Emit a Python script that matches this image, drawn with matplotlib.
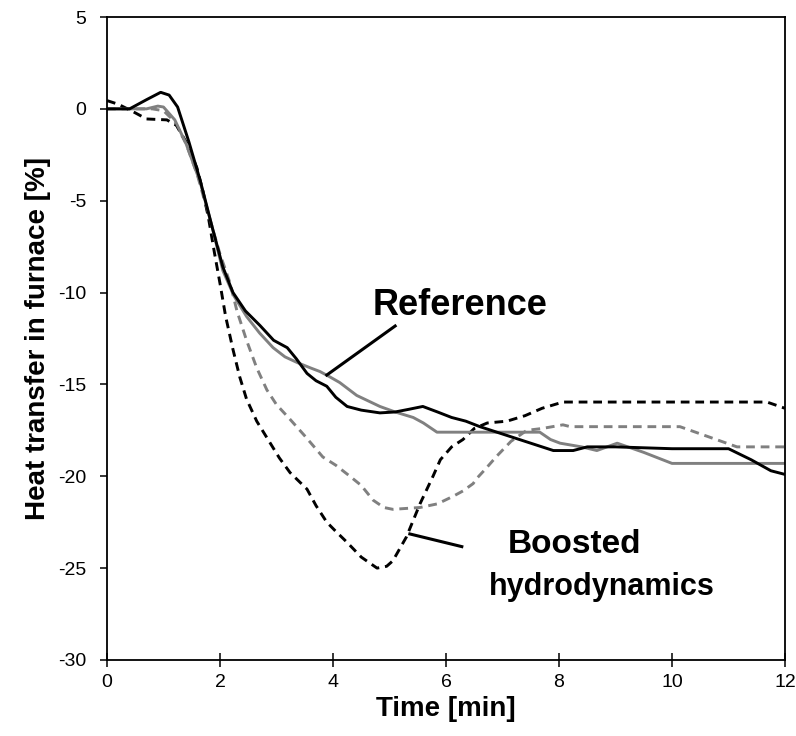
import matplotlib
matplotlib.use("Agg")
import matplotlib.pyplot as plt

plt.rcParams['font.family'] = ['Liberation Sans', 'DejaVu Sans']
plt.rcParams['axes.unicode_minus'] = False

# === DATA ===
# reference case, black solid
ref_black_t = [0, 0.4, 0.7, 0.95, 1.1, 1.25, 1.45, 1.65, 1.85, 2.05, 2.23, 2.45, 2.71,
               2.95, 3.19, 3.35, 3.54, 3.7, 3.89, 4.05, 4.25, 4.5, 4.83, 5.1, 5.35, 5.59,
               5.85, 6.1, 6.35, 6.6, 6.9, 7.3, 7.6, 7.9, 8.25, 8.5, 9.0, 10.0, 11.0,
               11.4, 11.75, 12.0]
ref_black_q = [0, 0, 0.5, 0.9, 0.75, 0.1, -1.8, -3.9, -6.3, -8.6, -10.0, -11.0, -11.8,
               -12.6, -13.0, -13.6, -14.4, -14.8, -15.1, -15.7, -16.2, -16.4, -16.55, -16.5,
               -16.35, -16.2, -16.5, -16.8, -17.0, -17.3, -17.6, -18.0, -18.3, -18.6, -18.6,
               -18.4, -18.4, -18.5, -18.5, -19.1, -19.7, -19.9]

# reference case, grey solid
ref_grey_t = [0, 0.7, 0.9, 1.0, 1.2, 1.4, 1.65, 1.85, 2.05, 2.25, 2.47, 2.7, 2.94, 3.15,
              3.36, 3.6, 3.77, 3.95, 4.12, 4.42, 4.83, 5.1, 5.42, 5.6, 5.84, 6.6, 7.66,
              7.85, 8.02, 8.4, 8.67, 9.03, 9.5, 10.0, 12.0]
ref_grey_q = [0, 0, 0.15, 0.1, -0.6, -1.9, -4.0, -6.3, -8.8, -10.2, -11.3, -12.2, -13.0,
              -13.5, -13.8, -14.1, -14.3, -14.6, -14.9, -15.6, -16.2, -16.5, -16.8, -17.1,
              -17.6, -17.6, -17.6, -18.0, -18.2, -18.4, -18.6, -18.2, -18.7, -19.3, -19.3]

# boosted hydrodynamics, black dashed
boost_black_t = [0, 0.2, 0.46, 0.7, 1.06, 1.23, 1.4, 1.59, 1.7, 1.8, 1.9, 2.0, 2.1, 2.23,
                 2.35, 2.47, 2.65, 2.83, 3.05, 3.24, 3.54, 3.7, 3.89, 4.05, 4.25, 4.5, 4.78,
                 4.95, 5.06, 5.3, 5.54, 5.77, 5.9, 6.1, 6.3, 6.5, 6.73, 7.08, 7.4, 7.7, 8.07,
                 11.68, 12.0]
boost_black_q = [0.45, 0.25, -0.15, -0.55, -0.6, -0.9, -1.8, -3.2, -4.5, -6.0, -7.8, -9.5,
                 -11.3, -13.1, -14.6, -15.8, -17.0, -17.9, -19.0, -19.8, -20.7, -21.6, -22.5,
                 -23.0, -23.6, -24.4, -25.0, -24.9, -24.6, -23.3, -21.5, -20.0, -19.1, -18.4,
                 -18.0, -17.4, -17.1, -17.0, -16.7, -16.3, -15.96, -15.96, -16.3]

# boosted hydrodynamics, grey dashed
boost_grey_t = [0, 0.8, 1.0, 1.2, 1.4, 1.6, 1.8, 2.0, 2.18, 2.3, 2.47, 2.65, 2.83, 3.0,
                3.24, 3.5, 3.82, 4.05, 4.3, 4.5, 4.71, 4.9, 5.06, 5.54, 5.85, 6.12, 6.3,
                6.48, 6.55, 6.7, 6.9, 7.15, 7.43, 7.7, 8.07, 8.2, 10.14, 10.6, 11.15, 12.0]
boost_grey_q = [0, 0, -0.1, -0.7, -1.9, -3.6, -5.8, -7.9, -9.5, -11.0, -12.6, -14.1, -15.3,
                -16.1, -16.9, -17.8, -18.95, -19.4, -20.0, -20.5, -21.3, -21.7, -21.8, -21.7,
                -21.5, -21.1, -20.8, -20.4, -20.1, -19.6, -18.9, -18.1, -17.5, -17.4, -17.2,
                -17.3, -17.3, -17.8, -18.4, -18.4]

x_ticks = [0, 2, 4, 6, 8, 10, 12]
y_ticks = [5, 0, -5, -10, -15, -20, -25, -30]

# === PLOT ===
fig = plt.figure(figsize=(7.96, 7.36), dpi=100)
ax = fig.add_axes([0.1344, 0.1033, 0.8518, 0.8736])

grey = '#808080'
lw = 2.1
ax.plot(boost_grey_t, boost_grey_q, color=grey, lw=lw, dashes=(3, 2))
ax.plot(boost_black_t, boost_black_q, color='black', lw=lw, dashes=(3, 2))
ax.plot(ref_grey_t, ref_grey_q, color=grey, lw=lw)
ax.plot(ref_black_t, ref_black_q, color='black', lw=lw)

# === ANNOTATIONS ===
ax.text(6.25, -10.73, "Reference", fontsize=26, fontweight='bold', ha='center', va='center')
ax.plot([5.10, 3.89], [-11.82, -14.49], color='black', lw=2.2)
ax.text(8.28, -23.74, "Boosted", fontsize=24, fontweight='bold', ha='center', va='center')
ax.text(8.76, -26.03, "hydrodynamics", fontsize=22, fontweight='bold', ha='center', va='center')
ax.plot([6.28, 5.36], [-23.83, -23.14], color='black', lw=2.2)

ax.set_xlim(0, 12)
ax.set_ylim(-30, 5)
ax.set_xticks(x_ticks)
ax.set_yticks(y_ticks)
ax.tick_params(axis='x', direction='inout', length=10, width=1.1, labelsize=14, pad=5)
ax.tick_params(axis='y', direction='out', length=5, width=1.1, labelsize=14, pad=10)
for s in ax.spines.values():
    s.set_linewidth(1.3)

ax.set_xlabel("Time [min]", fontsize=20, fontweight='bold', labelpad=4)
ax.set_ylabel("Heat transfer in furnace [%]", fontsize=20, fontweight='bold', labelpad=5)

fig.savefig("out.png", dpi=100)
